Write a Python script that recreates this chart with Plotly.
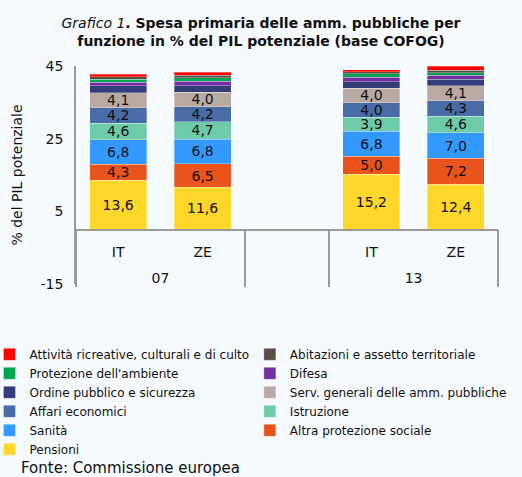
import plotly.graph_objects as go

groups = ["07", "07", " ", "13", "13"]
countries = ["IT", "ZE", " ", "IT", "ZE"]

series_names = [
    "Pensioni",
    "Altra protezione sociale",
    "Sanità",
    "Istruzione",
    "Affari economici",
    "Serv. generali delle amm. pubbliche",
    "Ordine pubblico e sicurezza",
    "Difesa",
    "Protezione dell'ambiente",
    "Abitazioni e assetto territoriale",
    "Attività ricreative, culturali e di culto",
]

pensioni = [13.6, 11.6, None, 15.2, 12.4]
altra_prot = [4.3, 6.5, None, 5.0, 7.2]
sanita = [6.8, 6.8, None, 6.8, 7.0]
istruzione = [4.6, 4.7, None, 3.9, 4.6]
affari = [4.2, 4.2, None, 4.0, 4.3]
serv_gen = [4.1, 4.0, None, 4.0, 4.1]
ordine = [2.0, 1.8, None, 1.8, 1.8]
difesa = [0.9, 1.2, None, 1.2, 1.0]
ambiente = [0.9, 0.9, None, 1.0, 0.8]
abitazioni = [0.6, 0.8, None, 0.5, 0.7]
cultura = [0.7, 0.8, None, 0.6, 1.0]

y_tickvals = [-15, 5, 25, 45]
y_ticktext = ["-15", "5", "25", "45"]

values = [pensioni, altra_prot, sanita, istruzione, affari, serv_gen,
          ordine, difesa, ambiente, abitazioni, cultura]
labelled = [True, True, True, True, True, True, False, False, False, False, False]
legend_ids = ["legend", "legend2"] * 6

colors = ["#FFD62A", "#E8541C", "#3399FF", "#6DCBA9", "#4A6CA6", "#B8AAA3",
          "#333D78", "#7231A0", "#00A651", "#5A4E48", "#FF0000"]

FONT = "DejaVu Sans, Liberation Sans, Arial, sans-serif"

# second line keeps the group labels (07 / 13) at the reference distance
x_inner = [c + "<br>\u00a0" for c in countries]

fig = go.Figure()
for name, vals, col, lab, lg in zip(series_names, values, colors, labelled, legend_ids):
    txt = [("" if v is None else f"{v:.1f}".replace(".", ",")) if lab else "" for v in vals]
    fig.add_trace(go.Bar(
        x=[groups, x_inner], y=vals, name=name, legend=lg,
        marker=dict(color=col, line=dict(width=0.5, color="rgba(255,255,255,0.6)")),
        text=txt, textposition="inside", insidetextanchor="middle",
        textfont=dict(size=14, color="#111111"),
        hoverinfo="y+name",
    ))

legend_common = dict(
    orientation="v", traceorder="reversed", yanchor="top", xanchor="left",
    font=dict(size=12), bgcolor="rgba(0,0,0,0)", itemclick=False,
    tracegroupgap=0,
)

fig.update_layout(
    barmode="stack",
    bargap=0.325,
    width=522, height=477,
    margin=dict(l=76, r=24, t=66, b=193, autoexpand=False),
    paper_bgcolor="#F5FAFF",
    plot_bgcolor="#F5FAFF",
    font=dict(family=FONT, size=14, color="#111111"),
    uniformtext=dict(minsize=14, mode="show"),
    title=dict(
        text="<i>Grafico 1</i><b>. Spesa primaria delle amm. pubbliche per<br>funzione in % del PIL potenziale (base COFOG)</b>",
        x=0.5, xanchor="center", y=0.942, yanchor="middle",
        font=dict(size=14, color="#111111"),
    ),
    legend=dict(x=-0.205, y=-0.256, **legend_common),
    legend2=dict(x=0.412, y=-0.256, **legend_common),
    showlegend=True,
)

fig.update_yaxes(
    range=[-15, 45], tickvals=y_tickvals, ticktext=y_ticktext,
    showgrid=False, zeroline=False,
    showline=True, linecolor="#999999", linewidth=1.5,
    ticks="", tickfont=dict(size=14), ticklabelstandoff=8,
    title=dict(text="% del PIL potenziale", font=dict(size=14), standoff=15),
)
fig.update_xaxes(
    type="multicategory",
    anchor="free", position=0.25,
    showline=True, linecolor="#999999", linewidth=1.5,
    showdividers=True, dividercolor="#999999", dividerwidth=1.5,
    ticks="", tickfont=dict(size=14), showgrid=False,
    ticklabelstandoff=10,
)

fig.add_annotation(
    text="Fonte: Commissione europea", xref="paper", yref="paper",
    x=-0.135, y=-0.845, xanchor="left", yanchor="middle",
    showarrow=False, font=dict(size=15, color="#111111"),
)

fig.write_html(
    "out.html",
    config={"displayModeBar": False},
    post_script="document.body.style.margin='0px';document.body.style.overflow='hidden';",
)
